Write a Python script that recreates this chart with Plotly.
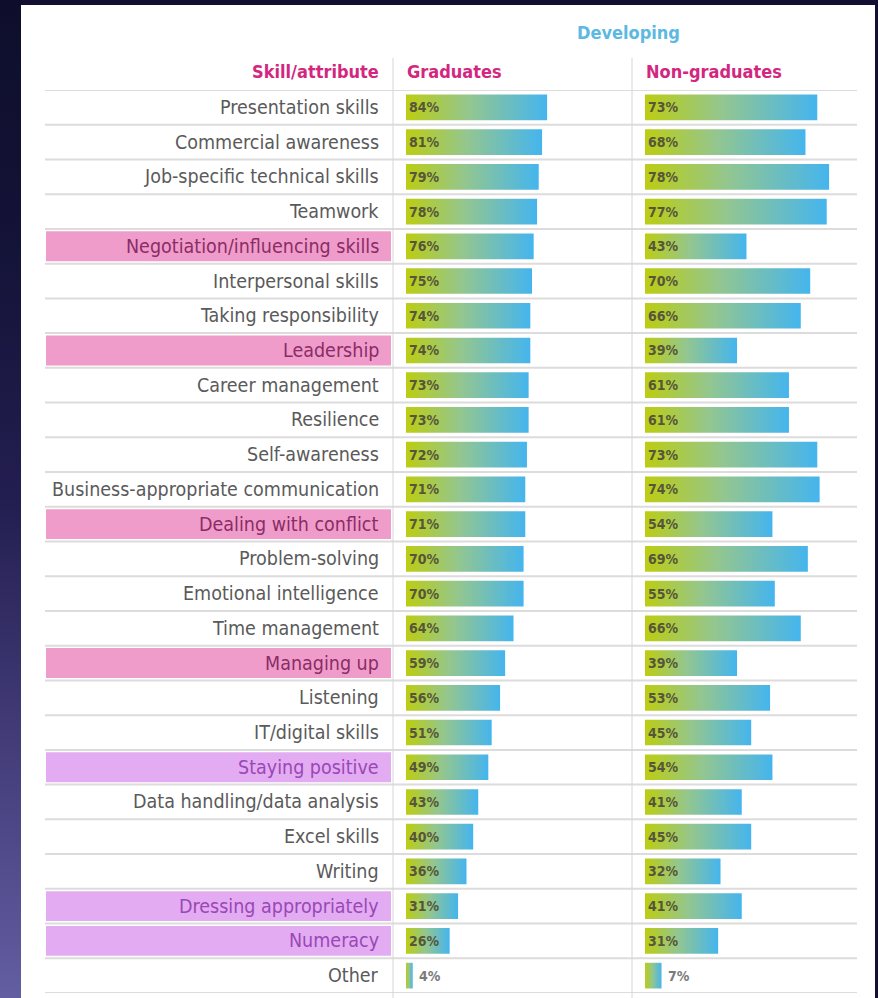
import plotly.graph_objects as go

# ---------------- data ----------------
skills = [
    "Presentation skills", "Commercial awareness", "Job-specific technical skills",
    "Teamwork", "Negotiation/influencing skills", "Interpersonal skills",
    "Taking responsibility", "Leadership", "Career management", "Resilience",
    "Self-awareness", "Business-appropriate communication", "Dealing with conflict",
    "Problem-solving", "Emotional intelligence", "Time management", "Managing up",
    "Listening", "IT/digital skills", "Staying positive", "Data handling/data analysis",
    "Excel skills", "Writing", "Dressing appropriately", "Numeracy", "Other",
]
graduates = [84, 81, 79, 78, 76, 75, 74, 74, 73, 73, 72, 71, 71, 70, 70, 64, 59, 56, 51, 49, 43, 40, 36, 31, 26, 4]
non_graduates = [73, 68, 78, 77, 43, 70, 66, 39, 61, 61, 73, 74, 54, 69, 55, 66, 39, 53, 45, 54, 41, 45, 32, 41, 31, 7]
pink_rows = ["Negotiation/influencing skills", "Leadership", "Dealing with conflict", "Managing up"]
lilac_rows = ["Staying positive", "Dressing appropriately", "Numeracy"]

title_text = "Developing"
col_label = "Skill/attribute"
col_grad = "Graduates"
col_nongrad = "Non-graduates"

# ---------------- styling ----------------
W, H = 878, 998
NARROW = "DejaVu Sans Condensed, Liberation Sans Narrow, sans-serif"
MAGENTA = "#d3277f"
SKY = "#5cb9e2"
PINK = "#f09cca"
LILAC = "#e3abf2"
BAR_SCALE = [[0, "#bccd12"], [0.45, "#93c690"], [1, "#45b5ee"]]


def px(x):
    return x / W


def py(y):
    return 1 - y / H


n = len(skills)
half = 0.37

fig = go.Figure()

# background gradient strip (left edge)
fig.add_trace(go.Scatter(
    x=[0, 21, 21, 0, 0], y=[0, 0, H, H, 0], fill="toself", mode="lines",
    line=dict(width=0, color="rgba(0,0,0,0)"),
    fillgradient=dict(type="vertical",
                      colorscale=[[0, "#635da2"], [0.25, "#443d7a"], [0.5, "#231e50"],
                                  [0.75, "#141338"], [1, "#0e0e2c"]]),
    xaxis="x3", yaxis="y3", hoverinfo="skip", showlegend=False,
))


def add_bars(values, xa):
    for i, v in enumerate(values):
        fig.add_trace(go.Scatter(
            x=[0, v, v, 0, 0], y=[i - half, i - half, i + half, i + half, i - half],
            fill="toself", mode="lines",
            line=dict(width=0, color="rgba(0,0,0,0)"),
            fillgradient=dict(type="horizontal", colorscale=BAR_SCALE),
            xaxis=xa, yaxis="y", hoverinfo="skip", showlegend=False,
        ))


add_bars(graduates, "x")
add_bars(non_graduates, "x2")

shapes = []
# white panel
shapes.append(dict(type="rect", xref="paper", yref="paper", x0=px(21), x1=px(875),
                   y0=py(998), y1=py(5), fillcolor="white", line=dict(width=0), layer="below"))
# highlight boxes
for i, s in enumerate(skills):
    if s in pink_rows or s in lilac_rows:
        col = PINK if s in pink_rows else LILAC
        shapes.append(dict(type="rect", xref="paper", yref="y", x0=px(46), x1=px(391),
                           y0=i - 0.43, y1=i + 0.43, fillcolor=col, line=dict(width=0),
                           layer="below"))
# row separators
for b in range(n + 1):
    shapes.append(dict(type="line", xref="paper", yref="y", x0=px(45), x1=px(857),
                       y0=b - 0.5, y1=b - 0.5, line=dict(color="#dcdcdc", width=2),
                       layer="below"))
# column separators
for xv in (393, 632):
    shapes.append(dict(type="line", xref="paper", yref="paper", x0=px(xv), x1=px(xv),
                       y0=py(998), y1=py(58), line=dict(color="#d6d6d6", width=1),
                       layer="below"))

annotations = []
for i, s in enumerate(skills):
    if s in pink_rows:
        c = "#8a2c66"
    elif s in lilac_rows:
        c = "#9a47b6"
    else:
        c = "#5a5a5a"
    annotations.append(dict(x=px(381), xref="paper", y=i, yref="y", text=s,
                            xanchor="right", yanchor="middle", showarrow=False,
                            font=dict(family=NARROW, size=19.5, color=c)))


def add_pct(values, xa):
    for i, v in enumerate(values):
        small = v < 10
        annotations.append(dict(
            x=v if small else 0, xref=xa, y=i, yref="y", text=f"{v}%",
            xanchor="left", yanchor="middle", showarrow=False, xshift=4 if small else 1,
            font=dict(family=NARROW, size=14, color="#7a7a7a" if small else "#56563a",
                      weight="bold"),
        ))


add_pct(graduates, "x")
add_pct(non_graduates, "x2")

# headers
HFONT = dict(family=NARROW, size=18, color=MAGENTA, weight="bold")
annotations.append(dict(x=px(381), xref="paper", y=py(72), yref="paper", text=col_label,
                        xanchor="right", yanchor="middle", showarrow=False, font=HFONT))
annotations.append(dict(x=px(405), xref="paper", y=py(72), yref="paper", text=col_grad,
                        xanchor="left", yanchor="middle", showarrow=False, font=HFONT))
annotations.append(dict(x=px(644), xref="paper", y=py(72), yref="paper", text=col_nongrad,
                        xanchor="left", yanchor="middle", showarrow=False, font=HFONT))
annotations.append(dict(x=px(628), xref="paper", y=py(33), yref="paper", text=title_text,
                        xanchor="center", yanchor="middle", showarrow=False,
                        font=dict(family=NARROW, size=18, color=SKY, weight="bold")))

hidden = dict(showgrid=False, zeroline=False, showticklabels=False, ticks="", showline=False,
              fixedrange=True)
fig.update_layout(
    width=W, height=H, margin=dict(l=0, r=0, t=0, b=0),
    paper_bgcolor="#120f33", plot_bgcolor="rgba(0,0,0,0)",
    showlegend=False,
    xaxis=dict(domain=[px(406), px(574)], range=[0, 100], **hidden),
    xaxis2=dict(domain=[px(645), px(857.4)], range=[0, 90], anchor="y", **hidden),
    yaxis=dict(domain=[py(993), py(90)], range=[n - 0.5, -0.5], **hidden),
    xaxis3=dict(domain=[0, 1], range=[0, W], anchor="y3", **hidden),
    yaxis3=dict(domain=[0, 1], range=[0, H], anchor="x3", **hidden),
    shapes=shapes, annotations=annotations,
)

fig.write_html("out.html")
